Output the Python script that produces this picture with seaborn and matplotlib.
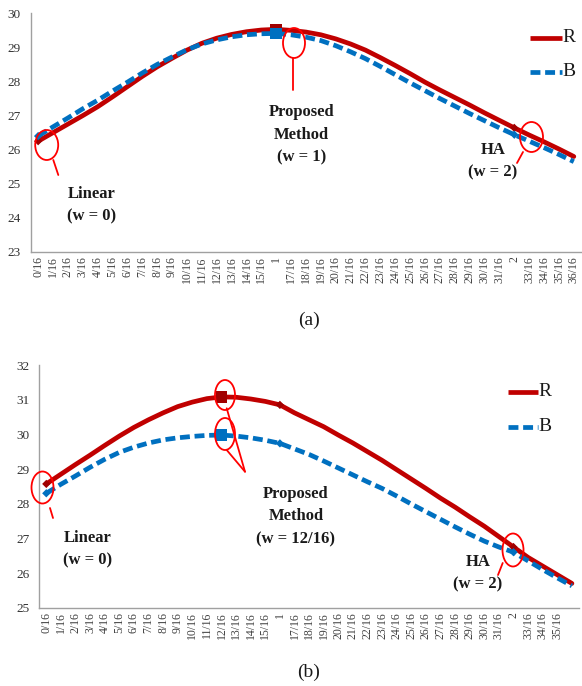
import numpy as np
import pandas as pd
import matplotlib
matplotlib.use("Agg")
import matplotlib.pyplot as plt
from matplotlib.patches import Ellipse
from matplotlib.lines import Line2D
import seaborn as sns

# ---------------- data ----------------
weights = list(range(37))  # w = i/16
tick_labels = [("1" if i == 16 else "2" if i == 32 else f"{i}/16") for i in weights]

r_a = [26.25, 26.50, 26.75, 27.00, 27.26, 27.55, 27.85, 28.15, 28.43, 28.68,
       28.92, 29.12, 29.27, 29.38, 29.46, 29.51, 29.53, 29.50, 29.45, 29.37,
       29.25, 29.10, 28.92, 28.70, 28.47, 28.23, 27.98, 27.75, 27.53, 27.31,
       27.08, 26.86, 26.64, 26.43, 26.23, 26.02, 25.80]
b_a = [26.40, 26.67, 26.93, 27.20, 27.45, 27.72, 27.98, 28.25, 28.50, 28.72,
       28.93, 29.10, 29.22, 29.31, 29.37, 29.40, 29.41, 29.37, 29.30, 29.20,
       29.05, 28.87, 28.67, 28.44, 28.20, 27.96, 27.73, 27.50, 27.28, 27.06,
       26.85, 26.64, 26.44, 26.25, 26.06, 25.86, 25.65]

r_b = [28.57, 28.85, 29.13, 29.40, 29.68, 29.95, 30.20, 30.42, 30.62, 30.80,
       30.93, 31.03, 31.08, 31.07, 31.02, 30.95, 30.85, 30.62, 30.42, 30.22,
       29.98, 29.75, 29.50, 29.25, 28.98, 28.71, 28.44, 28.16, 27.90, 27.62,
       27.35, 27.05, 26.75, 26.45, 26.20, 25.95, 25.70]
b_b = [28.30, 28.56, 28.80, 29.05, 29.28, 29.48, 29.63, 29.75, 29.84, 29.90,
       29.94, 29.97, 29.98, 29.95, 29.90, 29.83, 29.74, 29.58, 29.42, 29.23,
       29.03, 28.83, 28.63, 28.44, 28.22, 27.99, 27.77, 27.55, 27.33, 27.12,
       26.92, 26.75, 26.60, 26.35, 26.10, 25.86, 25.63]

proposed_a = 16
proposed_b = 12
small_marks_a = [0, 32]
small_marks_b = [0, 16, 32]

RED = "#C00000"
BLUE = "#0070C0"

sns.set_style("white")
plt.rcParams["font.family"] = ["Liberation Serif", "DejaVu Serif"]

fig = plt.figure(figsize=(5.82, 6.86), dpi=100)
W, H = 582.0, 686.0


def add_axes_px(left, right, top, bottom):
    return fig.add_axes([left / W, 1 - bottom / H, (right - left) / W, (bottom - top) / H])


axA = add_axes_px(30.7, 30.7 + 37 * 14.88, 13.3, 252.0)
axB = add_axes_px(39.0, 39.0 + 37 * 14.6, 365.0, 607.7)


def draw(ax, r, b, ylim, prop_idx, small_idx, labels):
    df = pd.DataFrame({
        "w": weights * 2,
        "v": list(r) + list(b),
        "s": ["R"] * len(r) + ["B"] * len(b),
    })
    sns.lineplot(data=df, x="w", y="v", hue="s", style="s", hue_order=["R", "B"],
                 style_order=["R", "B"], palette={"R": RED, "B": BLUE},
                 dashes={"R": "", "B": (2.1, 1.0)}, lw=3.4, legend=False, ax=ax)
    for line in ax.get_lines():
        line.set_dash_capstyle("butt")
    # markers
    sel = df[(df["w"] == prop_idx)]
    sns.scatterplot(data=sel, x="w", y="v", hue="s", palette={"R": "#A00000", "B": BLUE},
                    marker="s", s=70, edgecolor="none", legend=False, ax=ax, zorder=5)
    if small_idx:
        sel2 = df[df["w"].isin(small_idx)]
        sns.scatterplot(data=sel2, x="w", y="v", hue="s", palette={"R": "#A00000", "B": BLUE},
                        marker="D", s=18, edgecolor="none", legend=False, ax=ax, zorder=5)
    ax.set_xlim(-0.5, 36.5)
    ax.set_ylim(*ylim)
    ax.set_yticks(range(ylim[0], ylim[1] + 1))
    ax.set_xticks(weights)
    ax.set_xticklabels(labels, rotation=90, fontsize=8.5, color="#404040")
    ax.set_xticks(np.arange(-0.5, 37, 4), minor=True)
    ax.tick_params(axis="x", which="major", length=0, pad=3)
    ax.tick_params(axis="x", which="minor", length=4, width=1, color="#A0A0A0", direction="out")
    ax.tick_params(axis="y", which="major", length=4, width=1, color="#A0A0A0", direction="out",
                   labelsize=9.5, labelcolor="#333333", pad=3)
    ax.set_xlabel("")
    ax.set_ylabel("")
    for s in ["top", "right"]:
        ax.spines[s].set_visible(False)
    for s in ["left", "bottom"]:
        ax.spines[s].set_color("#A0A0A0")
        ax.spines[s].set_linewidth(1)
    ax.patch.set_alpha(0)


draw(axA, r_a, b_a, (23, 30), proposed_a, small_marks_a, tick_labels)
labels_b = tick_labels[:36] + [""]
draw(axB, r_b, b_b, (25, 32), proposed_b, small_marks_b, labels_b)


# ---------------- annotations (figure pixel coordinates) ----------------
def fx(x):
    return x / W


def fy(y):
    return 1 - y / H


def ellipse(cx, cy, w, h):
    e = Ellipse((fx(cx), fy(cy)), w / W, h / H, transform=fig.transFigure,
                fill=False, edgecolor="#FF0000", lw=1.3, zorder=10)
    fig.add_artist(e)


def seg(x0, y0, x1, y1):
    fig.add_artist(Line2D([fx(x0), fx(x1)], [fy(y0), fy(y1)], transform=fig.transFigure,
                          color="#FF0000", lw=1.3, zorder=10))


def label(x, y, s):
    fig.text(fx(x), fy(y), s, ha="center", va="center", fontsize=12, fontweight="bold",
             color="#1a1a1a", linespacing=1.55)


def legend(x0, x1, y1, y2, fs=14):
    fig.add_artist(Line2D([fx(x0), fx(x1)], [fy(y1), fy(y1)], transform=fig.transFigure,
                          color=RED, lw=3.4, solid_capstyle="butt"))
    fig.add_artist(Line2D([fx(x0), fx(x1)], [fy(y2), fy(y2)], transform=fig.transFigure,
                          color=BLUE, lw=3.4, dashes=(2.1, 1.0), dash_capstyle="butt"))
    fig.text(fx(x1 + 0.5), fy(y1), "R", ha="left", va="center", fontsize=fs, color="#1a1a1a")
    fig.text(fx(x1 + 0.5), fy(y2), "B", ha="left", va="center", fontsize=fs, color="#1a1a1a")


# (a)
ellipse(46.7, 145, 23, 30)
seg(53.3, 160, 58.3, 175)
label(91.7, 205.5, "Linear\n(w = 0)")
ellipse(294, 43, 22, 30)
seg(293, 58, 293, 90)
label(301.5, 135, "Proposed\nMethod\n(w = 1)")
ellipse(531.5, 137, 23, 30)
seg(523, 152, 517, 163)
label(493, 161.5, "HA\n(w = 2)")
legend(530, 562, 38, 72)
fig.text(fx(309), fy(320), "(a)", ha="center", va="center", fontsize=14, color="#1a1a1a")

# (b)
ellipse(42.5, 487.5, 22, 32)
seg(50, 508, 53, 518)
label(88, 549.5, "Linear\n(w = 0)")
ellipse(225, 395, 20, 30)
ellipse(225, 434, 20, 32)
seg(226.7, 408.3, 245, 471.7)
seg(226.7, 450, 245, 471.7)
label(296, 516.5, "Proposed\nMethod\n(w = 12/16)")
ellipse(513, 550, 21, 33)
seg(502.7, 563, 498, 575)
label(478, 573.5, "HA\n(w = 2)")
legend(508, 538, 391.7, 426.7)
fig.text(fx(309), fy(672), "(b)", ha="center", va="center", fontsize=14, color="#1a1a1a")

fig.savefig("out.png", dpi=100)
